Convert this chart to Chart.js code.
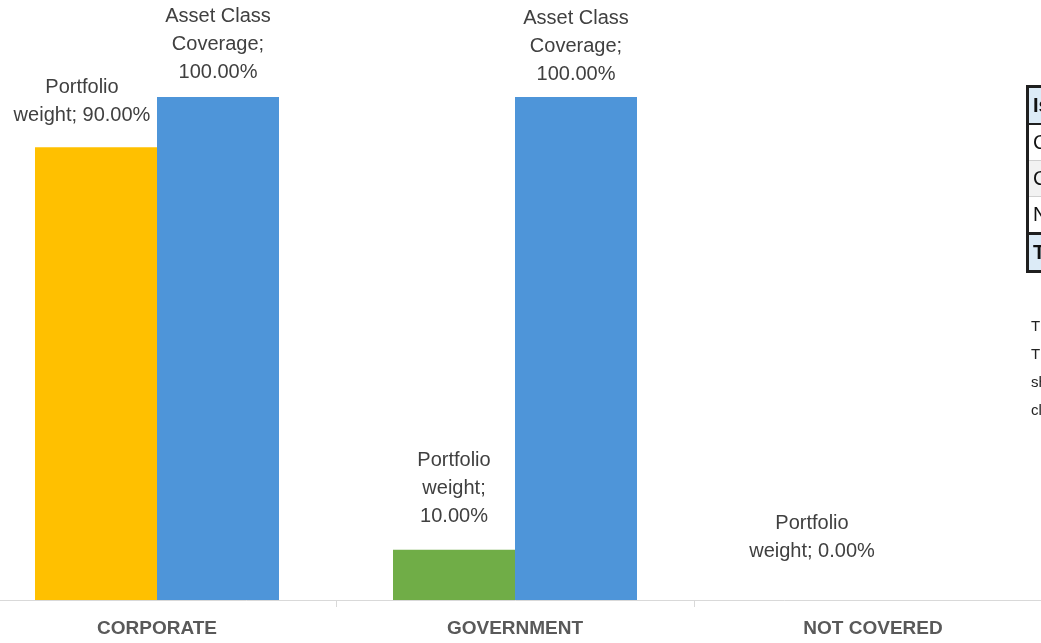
<!DOCTYPE html>
<html>
<head>
<meta charset="utf-8">
<script src="https://cdn.jsdelivr.net/npm/chart.js@4.4.1/dist/chart.umd.min.js"></script>
<style>
  html, body { margin: 0; padding: 0; width: 1041px; height: 643px; overflow: hidden; background: #fff; }
  #wrap { position: absolute; left: -22px; top: 0; width: 1074px; height: 643px; }
  #side { position: absolute; left: 1026px; top: 85px; font-family: "Liberation Sans", Arial, sans-serif; white-space: nowrap; }
  #side table { border-collapse: collapse; border: 3px solid #1f1f1f; font-size: 20px; color: #111; }
  #side td { height: 35px; padding: 0 0 0 4px; border-top: 1px solid #d0d0d0; }
  #side tr.head td { background: #dcebf7; font-weight: bold; border-bottom: 2px solid #1f1f1f; }
  #side tr.tot td { background: #dcebf7; font-weight: bold; border-top: 3px solid #1f1f1f; }
  #side tr.alt td { background: #f2f2f2; }
  #note { margin-top: 39px; padding-left: 5px; font-size: 15px; line-height: 28px; color: #222; }
</style>
</head>
<body>
<div id="wrap"><canvas id="chart"></canvas></div>
<div id="side">
  <table>
    <tr class="head"><td>Issuer type</td></tr>
    <tr><td>Corporate</td></tr>
    <tr class="alt"><td>Government</td></tr>
    <tr><td>Not covered</td></tr>
    <tr class="tot"><td>Total</td></tr>
  </table>
  <div id="note">
    <div>The chart shows</div>
    <div>The coverage</div>
    <div>share of each</div>
    <div>class</div>
  </div>
</div>
<script>
const categories = ['CORPORATE', 'GOVERNMENT', 'NOT COVERED']
const portfolioWeight = [90, 10, 0]
const assetClassCoverage = [100, 100, null]
const seriesNames = ['Portfolio weight', 'Asset Class Coverage']
const portfolioColors = ['#FFC000', '#70AD47', '#A5A5A5']
const coverageColor = '#4E95D9'

// how Excel wrapped each label, and where it nudged it
const labelLayout = {
  '0-0': { lines: ['Portfolio', 'weight; 90.00%'], dx: -14, dy: 33 },
  '0-1': { lines: ['Portfolio', 'weight;', '10.00%'], dx: 0, dy: 34 },
  '0-2': { lines: ['Portfolio', 'weight; 0.00%'], dx: 0, dy: 50 },
  '1-0': { lines: ['Asset Class', 'Coverage;', '100.00%'], dx: 0, dy: 26 },
  '1-1': { lines: ['Asset Class', 'Coverage;', '100.00%'], dx: 0, dy: 24 }
}

const barLabels = {
  id: 'barLabels',
  afterDatasetsDraw(chart) {
    const ctx = chart.ctx
    ctx.save()
    ctx.font = '20px "Liberation Sans", Arial, sans-serif'
    ctx.fillStyle = '#404040'
    ctx.textAlign = 'center'
    ctx.textBaseline = 'middle'
    chart.data.datasets.forEach((ds, di) => {
      chart.getDatasetMeta(di).data.forEach((bar, i) => {
        if (ds.data[i] == null) return
        const lay = labelLayout[di + '-' + i] || {
          lines: [seriesNames[di] + '; ' + ds.data[i].toFixed(2) + '%'], dx: 0, dy: 30
        }
        const n = lay.lines.length
        lay.lines.forEach((line, k) => {
          ctx.fillText(line, bar.x + lay.dx, bar.y - lay.dy - (n - 1 - k) * 28 + 1)
        })
      })
    })
    ctx.restore()
  }
}

new Chart(document.getElementById('chart'), {
  type: 'bar',
  data: {
    labels: categories,
    datasets: [
      { label: seriesNames[0], data: portfolioWeight, backgroundColor: portfolioColors },
      { label: seriesNames[1], data: assetClassCoverage, backgroundColor: coverageColor }
    ]
  },
  options: {
    responsive: true,
    maintainAspectRatio: false,
    animation: false,
    categoryPercentage: 244 / 358,
    barPercentage: 1,
    layout: { padding: { top: 97, left: 0, right: 0, bottom: 0 } },
    plugins: {
      legend: { display: false },
      tooltip: { enabled: false }
    },
    scales: {
      x: {
        grid: { offset: true, drawOnChartArea: false, drawTicks: true, tickLength: 7, color: '#d9d9d9' },
        border: { display: true, color: '#d9d9d9', width: 1 },
        ticks: {
          color: '#595959',
          font: { family: '"Liberation Sans", Arial, sans-serif', size: 19, weight: 'bold' },
          padding: 10
        },
        afterFit(scale) { scale.height = 43 }
      },
      y: { display: false, min: 0, max: 100 }
    }
  },
  plugins: [barLabels]
})
</script>
</body>
</html>
